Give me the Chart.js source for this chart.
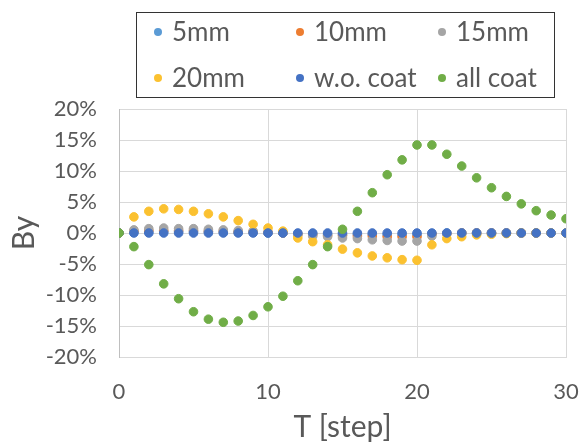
<!DOCTYPE html>
<html>
<head>
<meta charset="utf-8">
<script src="https://cdn.jsdelivr.net/npm/chart.js@4"></script>
<style>
    body { margin: 0; background: #fff; }
    #wrap { position: relative; width: 580px; height: 445px; }
    #legend {
        position: absolute; left: 136px; top: 12px; width: 419px; height: 86px;
        border: 1.5px solid #333; background: #fff;
        display: grid; grid-template-columns: 142px 142px 134px;
        grid-template-rows: 38px 38px; row-gap: 8px; padding-left: 17px; padding-top: 0; box-sizing: border-box;
        font-family: Lato, sans-serif; font-size: 26px; color: #595959;
    }
    #legend .item { display: flex; align-items: center; white-space: nowrap; position: relative; top: -1px; }
    #legend .dot { width: 8px; height: 8px; border-radius: 50%; margin-right: 10px; flex: none; position: relative; top: 1px; }
</style>
</head>
<body>
<div id="wrap">
    <canvas id="chart" width="580" height="445"></canvas>
    <div id="legend"></div>
</div>
<script>
const steps = [0, 1, 2, 3, 4, 5, 6, 7, 8, 9, 10, 11, 12, 13, 14, 15, 16, 17, 18, 19, 20, 21, 22, 23, 24, 25, 26, 27, 28, 29, 30];

const seriesNames = ['5mm', '10mm', '15mm', '20mm', 'w.o. coat', 'all coat'];
const seriesColors = ['#5B9BD5', '#ED7D31', '#A5A5A5', '#FBC130', '#4472C4', '#70AD47'];

const mm5 = [0, 0.1, 0.2, 0.2, 0.2, 0.2, 0.2, 0.1, 0.1, 0.1, 0, 0, -0.1, -0.1, -0.2, -0.2, -0.2, -0.2, -0.3, -0.3, -0.3, -0.1, 0, 0, 0, 0, 0, 0, 0, 0, 0];
const mm10 = [0, 0.3, 0.4, 0.4, 0.4, 0.4, 0.3, 0.3, 0.2, 0.2, 0.1, 0, -0.2, -0.3, -0.4, -0.4, -0.5, -0.5, -0.6, -0.6, -0.6, -0.2, -0.1, 0, 0, 0, 0, 0, 0, 0, 0];
const mm15 = [0, 0.5, 0.7, 0.8, 0.7, 0.7, 0.6, 0.5, 0.4, 0.3, 0.1, 0, -0.3, -0.5, -0.6, -0.8, -0.9, -1.1, -1.2, -1.3, -1.3, -0.5, -0.1, 0, 0, 0, 0, 0, 0, 0, 0];
const mm20 = [0, 2.6, 3.5, 3.9, 3.8, 3.5, 3.1, 2.6, 2.0, 1.4, 0.8, 0.3, -0.8, -1.4, -1.9, -2.6, -3.2, -3.7, -4.0, -4.3, -4.4, -1.9, -0.9, -0.6, -0.3, -0.2, -0.1, 0, 0, 0, 0];
const woCoat = [0, 0, 0, 0, 0, 0, 0, 0, 0, 0, 0, 0, 0, 0, 0, 0, 0, 0, 0, 0, 0, 0, 0, 0, 0, 0, 0, 0, 0, 0, 0];
const allCoat = [0, -2.2, -5.1, -8.2, -10.6, -12.7, -13.9, -14.4, -14.2, -13.3, -11.9, -10.2, -7.7, -5.1, -2.2, 0.6, 3.5, 6.5, 9.4, 11.8, 14.2, 14.2, 12.7, 10.8, 8.9, 7.3, 5.9, 4.7, 3.6, 2.9, 2.3];

const xTicks = [0, 10, 20, 30];
const yTicks = [-20, -15, -10, -5, 0, 5, 10, 15, 20];

const seriesValues = [mm5, mm10, mm15, mm20, woCoat, allCoat];

const textColor = '#595959';

document.addEventListener('DOMContentLoaded', () => {
    buildLegend();
    createChart();
});

function buildLegend() {
    const legend = document.getElementById('legend');
    seriesNames.forEach((name, i) => {
        const item = document.createElement('div');
        item.className = 'item';
        const dot = document.createElement('span');
        dot.className = 'dot';
        dot.style.background = seriesColors[i];
        const label = document.createElement('span');
        label.textContent = name;
        item.appendChild(dot);
        item.appendChild(label);
        legend.appendChild(item);
    });
}

function createChart() {
    const ctx = document.getElementById('chart').getContext('2d');

    // excel draws later series on top, chart.js draws lower order on top
    const datasets = seriesNames.map((name, i) => ({
        label: name,
        data: steps.map((t, j) => ({ x: t, y: seriesValues[i][j] })),
        backgroundColor: seriesColors[i],
        borderColor: seriesColors[i],
        borderWidth: 1,
        pointRadius: 4.3,
        order: seriesNames.length - i
    }));

    new Chart(ctx, {
        type: 'scatter',
        data: { datasets },
        options: {
            responsive: false,
            animation: false,
            layout: { padding: { top: 109, right: 14, left: 0, bottom: 0 } },
            scales: {
                x: {
                    type: 'linear',
                    min: 0,
                    max: 30,
                    afterBuildTicks: scale => { scale.ticks = xTicks.map(v => ({ value: v })); },
                    afterFit: scale => {
                        scale.height = 88;
                        scale.paddingLeft = 0;
                        scale.paddingRight = 0;
                    },
                    grid: { color: '#d9d9d9', drawTicks: false },
                    border: { color: '#d9d9d9' },
                    ticks: {
                        padding: 22,
                        color: textColor,
                        font: { family: 'Lato', size: 22 }
                    },
                    title: {
                        display: true,
                        text: 'T [step]',
                        color: textColor,
                        font: { family: 'Lato', size: 30 },
                        padding: { top: 0, bottom: 0 }
                    }
                },
                y: {
                    min: -20,
                    max: 20,
                    afterBuildTicks: scale => { scale.ticks = yTicks.map(v => ({ value: v })); },
                    afterFit: scale => {
                        scale.width = 119;
                        scale.paddingTop = 0;
                        scale.paddingBottom = 0;
                    },
                    grid: { color: '#d9d9d9', drawTicks: false },
                    border: { color: '#bfbfbf' },
                    ticks: {
                        padding: 22,
                        color: textColor,
                        font: { family: 'Lato', size: 22 },
                        callback: value => value + '%'
                    },
                    title: {
                        display: true,
                        text: 'By',
                        color: textColor,
                        font: { family: 'Lato', size: 30 },
                        padding: { top: 6, bottom: 0 }
                    }
                }
            },
            plugins: {
                legend: { display: false },
                tooltip: { enabled: false }
            }
        }
    });
}
</script>
</body>
</html>
